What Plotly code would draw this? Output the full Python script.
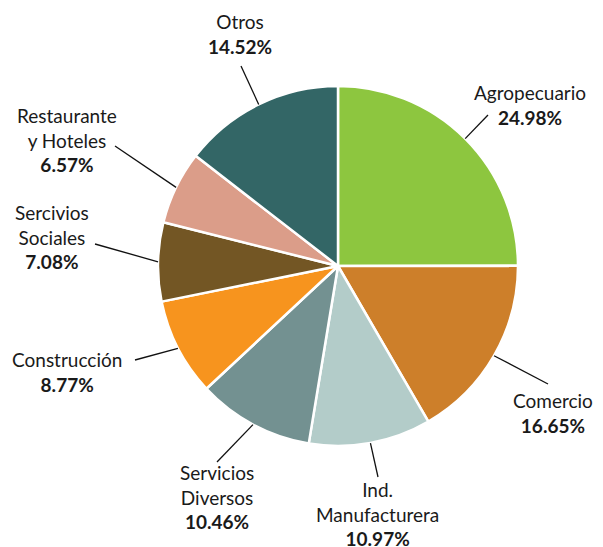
import math
import plotly.graph_objects as go

# data
sectors = [
    "Agropecuario",
    "Comercio",
    "Ind.<br>Manufacturera",
    "Servicios<br>Diversos",
    "Construcción",
    "Sercivios<br>Sociales",
    "Restaurante<br>y Hoteles",
    "Otros",
]
shares = [24.98, 16.65, 10.97, 10.46, 8.77, 7.08, 6.57, 14.52]
colors = ["#8DC63F", "#CD7F2A", "#B3CCC9", "#739191", "#F7941E", "#735624", "#DB9D89", "#336666"]

# the page body adds an 8px margin, so the figure is drawn 8px smaller and
# everything below is given in window pixels, then shifted
OFF = 8
W, H = 603 - OFF, 547 - OFF
CX, CY, R = 338, 266, 180

# label centre and leader-line outer end, in window pixels
label_pos = [(530, 105), (553, 413), (377, 514), (217, 497), (67, 372), (52, 237), (67, 140), (240, 34)]
line_end = [(488, 115), (548, 384), (378, 477), (217, 462), (135, 360), (95, 244), (115, 146), (241, 66)]

FONT = "Lato, 'Open Sans', sans-serif"


def px(x, y):
    return (x - OFF) / W, 1 - (y - OFF) / H


fig = go.Figure()
dx0, dy1 = px(CX - R, CY - R)
dx1, dy0 = px(CX + R, CY + R)
fig.add_trace(
    go.Pie(
        labels=sectors,
        values=shares,
        sort=False,
        direction="clockwise",
        rotation=0,
        textinfo="none",
        hoverinfo="label+percent",
        marker=dict(colors=colors, line=dict(color="white", width=2.5)),
        domain=dict(x=[dx0, dx1], y=[dy0, dy1]),
        showlegend=False,
    )
)

total = sum(shares)
cum = 0
shapes = []
annotations = []
for name, val, (lx, ly), (ex, ey) in zip(sectors, shares, label_pos, line_end):
    mid = (cum + val / 2) / total * 2 * math.pi
    cum += val
    sx = CX + R * math.sin(mid)
    sy = CY - R * math.cos(mid)
    x0, y0 = px(sx, sy)
    x1, y1 = px(ex, ey)
    shapes.append(dict(type="line", xref="paper", yref="paper", x0=x0, y0=y0, x1=x1, y1=y1,
                       line=dict(color="#111111", width=1.3)))
    ax, ay = px(lx, ly)
    annotations.append(dict(
        x=ax, y=ay, xref="paper", yref="paper", showarrow=False,
        xanchor="center", yanchor="middle", align="center",
        text=f"{name}<br><b>{val:.2f}%</b>",
        font=dict(family=FONT, size=19, color="#1a1a1a"),
    ))

fig.update_layout(
    width=W,
    height=H,
    margin=dict(l=0, r=0, t=0, b=0),
    paper_bgcolor="white",
    plot_bgcolor="white",
    shapes=shapes,
    annotations=annotations,
)
fig.write_html("out.html")
